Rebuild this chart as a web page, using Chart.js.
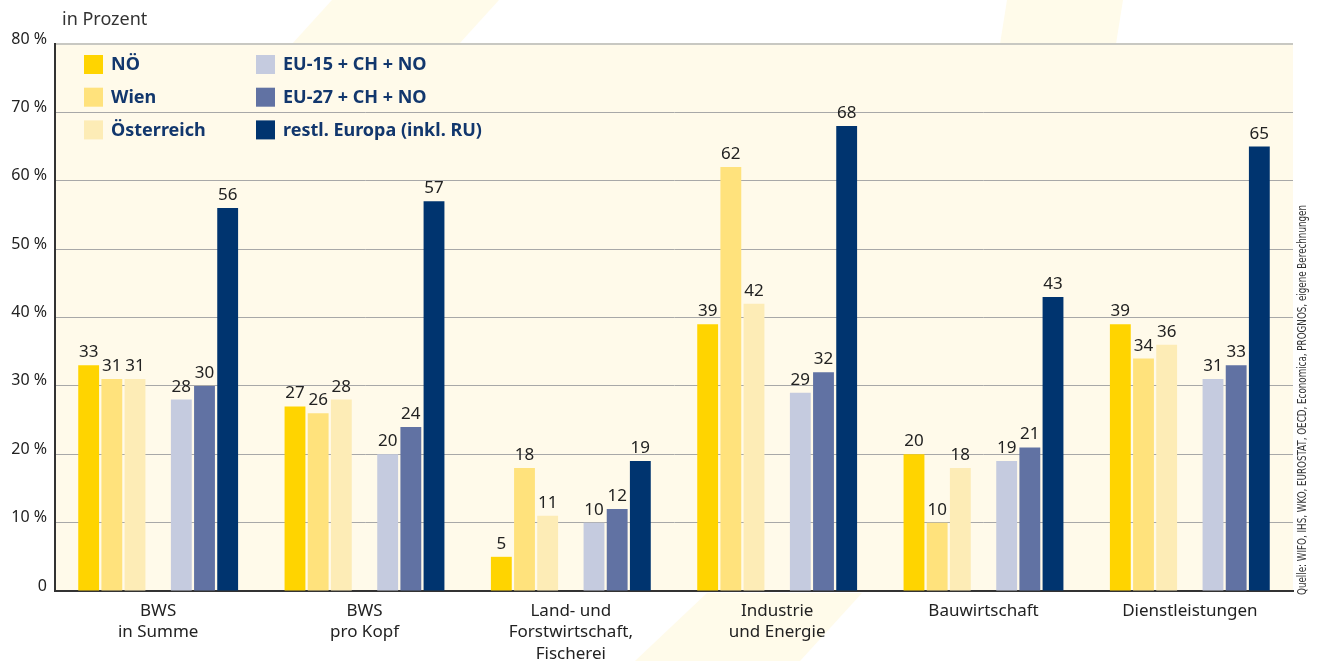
<!DOCTYPE html>
<html lang="de">
<head>
<meta charset="utf-8">
<title>Wertschöpfung im Vergleich</title>
<script src="https://cdn.jsdelivr.net/npm/chart.js@4.4.1/dist/chart.umd.min.js"></script>
<style>
  html, body { margin: 0; padding: 0; background: #fff; }
  canvas { display: block; }
</style>
</head>
<body>
<canvas id="chart" width="1318" height="661"></canvas>
<script>
// ------
// Daten
// ------
const categories = [
  ['BWS', 'in Summe'],
  ['BWS', 'pro Kopf'],
  ['Land- und', 'Forstwirtschaft,', 'Fischerei'],
  ['Industrie', 'und Energie'],
  'Bauwirtschaft',
  'Dienstleistungen',
];
const seriesNames = ['NÖ', 'Wien', 'Österreich', 'EU-15 + CH + NO', 'EU-27 + CH + NO', 'restl. Europa (inkl. RU)'];
const valuesNOe = [33, 27, 5, 39, 20, 39];
const valuesWien = [31, 26, 18, 62, 10, 34];
const valuesOesterreich = [31, 28, 11, 42, 18, 36];
const valuesEU15 = [28, 20, 10, 29, 19, 31];
const valuesEU27 = [30, 24, 12, 32, 21, 33];
const valuesRestEuropa = [56, 57, 19, 68, 43, 65];
const seriesColors = ['#ffd400', '#ffe27c', '#fdecb6', '#c5cbdf', '#6172a3', '#00346f'];
const yMax = 80;
const yStep = 10;
const unitLabel = 'in Prozent';
const sourceNote = 'Quelle: WIFO, IHS, WKO, EUROSTAT, OECD, Economica, PROGNOS, eigene Berechnungen';

const FONT = '"Noto Sans", "Open Sans", sans-serif';
const TEXT = '#222';
const NAVY = '#12376d';

// ------
// Datasets (mit Lücke zwischen Österreich und EU-15)
// ------
const seriesValues = [valuesNOe, valuesWien, valuesOesterreich, valuesEU15, valuesEU27, valuesRestEuropa];
const datasets = [];
seriesValues.forEach((vals, i) => {
  if (i === 3) {
    datasets.push({ label: '', data: categories.map(() => null), gap: true });
  }
  datasets.push({
    label: seriesNames[i],
    data: vals,
    backgroundColor: seriesColors[i],
    borderWidth: 0,
  });
});

// ------
// Plugins
// ------
const backdrop = {
  id: 'backdrop',
  beforeDraw(chart) {
    const { ctx, chartArea: a, width, height } = chart;
    ctx.save();
    ctx.fillStyle = '#fff';
    ctx.fillRect(0, 0, width, height);
    // blasse Logo-Streifen im Hintergrund
    ctx.fillStyle = '#fffbea';
    const bands = [
      [[332, 0], [499, 0], [459, 44], [292, 44]],
      [[1007, 0], [1123, 0], [1116, 44], [1000, 44]],
      [[707, 593], [862, 593], [800, 661], [635, 661]],
    ];
    bands.forEach(p => {
      ctx.beginPath();
      ctx.moveTo(p[0][0], p[0][1]);
      p.slice(1).forEach(q => ctx.lineTo(q[0], q[1]));
      ctx.closePath();
      ctx.fill();
    });
    ctx.fillStyle = '#fffaea';
    ctx.fillRect(a.left, a.top, a.right - a.left, a.bottom - a.top);
    ctx.restore();
  },
};

const valueLabels = {
  id: 'valueLabels',
  afterDatasetsDraw(chart) {
    const { ctx } = chart;
    ctx.save();
    ctx.font = '17px ' + FONT;
    ctx.fillStyle = TEXT;
    ctx.textAlign = 'center';
    ctx.textBaseline = 'alphabetic';
    chart.data.datasets.forEach((ds, di) => {
      if (ds.gap) return;
      chart.getDatasetMeta(di).data.forEach((bar, i) => {
        const v = ds.data[i];
        if (v == null) return;
        ctx.fillText(String(v), bar.x, bar.y - 8);
      });
    });
    ctx.restore();
  },
};

const annotations = {
  id: 'annotations',
  afterDraw(chart) {
    const { ctx, chartArea: a } = chart;
    ctx.save();
    // Einheit
    ctx.font = '18px ' + FONT;
    ctx.fillStyle = '#333';
    ctx.textAlign = 'left';
    ctx.textBaseline = 'middle';
    ctx.fillText(unitLabel, 62, 20);

    // Legende, zwei Spalten
    const items = chart.data.datasets.filter(d => !d.gap);
    ctx.font = 'bold 18px ' + FONT;
    items.forEach((d, i) => {
      const col = Math.floor(i / 3);
      const row = i % 3;
      const bx = a.left + 29 + col * 172;
      const by = a.top + 11 + row * 32.7;
      ctx.fillStyle = d.backgroundColor;
      ctx.fillRect(bx, by, 19, 19);
      ctx.fillStyle = NAVY;
      ctx.fillText(d.label, bx + 27, by + 10);
    });

    // Quelle, senkrecht
    ctx.font = '12px "Liberation Sans Narrow", "DejaVu Sans Condensed", sans-serif';
    ctx.fillStyle = '#333';
    const w = ctx.measureText(sourceNote).width;
    ctx.translate(a.right + 10, a.bottom + 4);
    ctx.rotate(-Math.PI / 2);
    ctx.scale(390 / w, 1);
    ctx.textAlign = 'left';
    ctx.textBaseline = 'middle';
    ctx.fillText(sourceNote, 0, 0);
    ctx.restore();
  },
};

// ------
// Chart
// ------
const el = document.getElementById('chart');
new Chart(el, {
  type: 'bar',
  data: {
    labels: categories,
    datasets: datasets,
  },
  options: {
    responsive: false,
    animation: false,
    devicePixelRatio: 1,
    categoryPercentage: 0.786,
    barPercentage: 0.9,
    layout: {
      padding: { top: 44, right: 25, left: 0, bottom: 0 },
    },
    plugins: {
      legend: { display: false },
      tooltip: { enabled: false },
    },
    scales: {
      x: {
        grid: { display: false },
        border: { color: '#333', width: 2 },
        ticks: {
          color: TEXT,
          font: { family: FONT, size: 17, lineHeight: 1.24 },
          padding: 2,
          maxRotation: 0,
          autoSkip: false,
        },
        afterFit(scale) { scale.height = 70; },
      },
      y: {
        min: 0,
        max: yMax,
        border: { color: '#333', width: 2 },
        grid: {
          drawTicks: false,
          color: ctx => (ctx.tick && ctx.tick.value === yMax ? '#c8c8c2' : '#a8a8a8'),
          lineWidth: ctx => (ctx.tick && ctx.tick.value === yMax ? 2 : 1),
        },
        ticks: {
          stepSize: yStep,
          color: TEXT,
          font: { family: FONT, size: 16 },
          padding: 8,
          labelOffset: -5,
          callback: v => (v === 0 ? '0' : v + ' %'),
        },
        afterFit(scale) { scale.width = 55; },
      },
    },
  },
  plugins: [backdrop, valueLabels, annotations],
});
// ------
// end Chart
// ------
</script>
</body>
</html>
